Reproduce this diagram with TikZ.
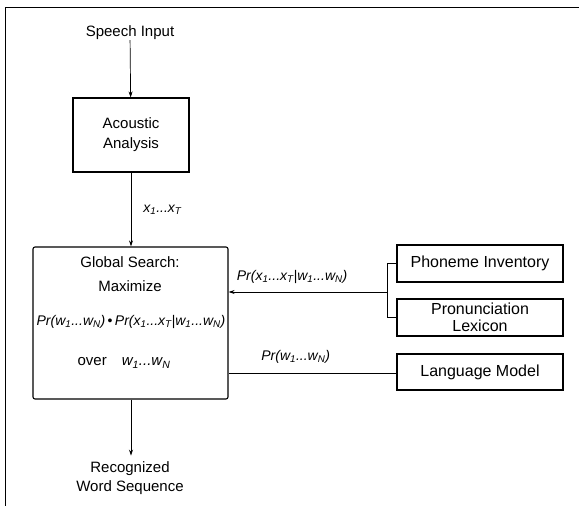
\documentclass[tikz,border=0pt]{standalone}
\usepackage{fontspec}
\setmainfont{Liberation Sans}
\usetikzlibrary{arrows.meta,positioning}

\begin{document}
\begin{tikzpicture}[x=1pt,y=-1pt,
	box/.style={draw,line width=1.1pt,minimum width=166pt,inner sep=0pt,align=center,font=\fontsize{16}{17}\selectfont},
	txt/.style={inner sep=0pt,align=center,font=\fontsize{15}{19}\selectfont},
	frm/.style={inner sep=0pt,font=\fontsize{14}{16}\selectfont\itshape},
	arr/.style={line width=0.7pt,-{Stealth[length=6pt,width=4pt]}}]

\useasboundingbox (0,0) rectangle (579,506);

% partial frame of the scan
\draw[line width=0.6pt] (5,506)--(5,7)--(579,7);

\node[txt] (speech) at (130,33) {Speech Input};
\node[box,minimum width=116pt,minimum height=74pt,font=\fontsize{15}{17}\selectfont] (acoustic) at (131,135) {Acoustic\\[3pt]Analysis};

\node[draw,line width=1.1pt,rounded corners=2pt,minimum width=195pt,minimum height=152pt,inner sep=0pt] (search) at (130.5,323) {};
\node[txt] (global) at (130,262) {Global Search:};
\node[txt] (maxim) at (130,286) {Maximize};
\node[frm] (prod) at (131,322) {Pr(w\textsubscript{1}...w\textsubscript{N})\,\textup{•}\,Pr(x\textsubscript{1}...x\textsubscript{T}|w\textsubscript{1}...w\textsubscript{N})};
\node[txt] (over) at (124,363) {over\quad\itshape w\textsubscript{1}...w\textsubscript{N}};

\node[txt] (recog) at (130,478) {Recognized\\Word Sequence};

\node[box,minimum height=37pt] (phon) at (480,263.5) {Phoneme Inventory};
\node[box,minimum height=37pt] (lex) at (480,317.5) {Pronunciation\\Lexicon};
\node[box,minimum height=36pt] (lm) at (480,372) {Language Model};

% connectors
\draw[arr] (speech) -- (acoustic);
\draw[arr] (acoustic) -- node[frm,pos=0.5,right=12pt] (xlab) {x\textsubscript{1}...x\textsubscript{T}} (acoustic|-search.north);
\draw[arr] (acoustic|-search.south) -- ++(0,56) coordinate (out);

\draw[line width=0.7pt] (phon.west) -- ++(-9,0) coordinate (brtop) |- (lex.west);
\draw[arr] (brtop|-0,292) coordinate (brmid) -- node[frm,pos=0.6,above=8pt] (pxlab) {Pr(x\textsubscript{1}...x\textsubscript{T}|w\textsubscript{1}...w\textsubscript{N})} (search.east|-0,292);

\draw[line width=0.7pt] (lm.west|-0,373) -- node[frm,pos=0.6,above=9pt] (pwlab) {Pr(w\textsubscript{1}...w\textsubscript{N})} (search.east|-0,373);

\end{tikzpicture}
\end{document}
